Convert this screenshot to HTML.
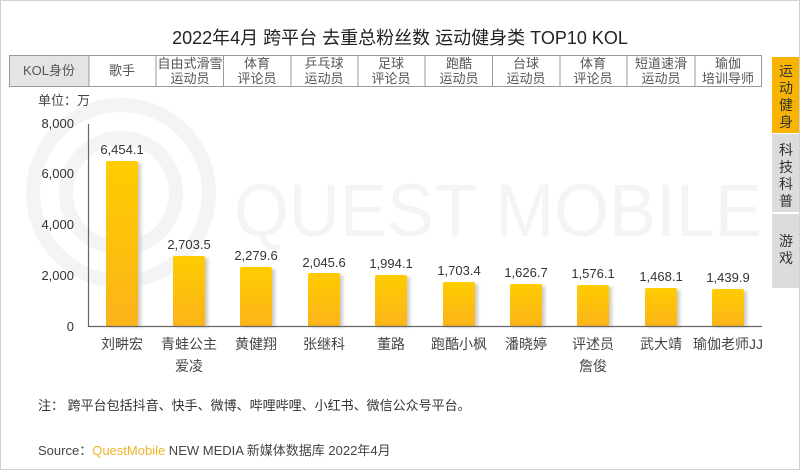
<!DOCTYPE html>
<html><head><meta charset="utf-8"><style>
html,body{margin:0;padding:0;background:#fff;}
svg{display:block;font-family:"Liberation Sans","Noto Sans CJK SC",sans-serif;}
</style></head><body>
<svg width="800" height="470" viewBox="0 0 800 470" xmlns="http://www.w3.org/2000/svg">
<defs>
<linearGradient id="g" x1="0" y1="0" x2="0" y2="1"><stop offset="0" stop-color="#ffcd00"/><stop offset="1" stop-color="#fbb31a"/></linearGradient>
<filter id="sh" x="-20%" y="-5%" width="150%" height="110%"><feGaussianBlur stdDeviation="1.5"/></filter>
</defs>
<rect x="0.5" y="0.5" width="799" height="469" fill="#fff" stroke="#d0d0d0"/>
<!-- watermark -->
<g fill="none" stroke="#f4f4f4" stroke-width="14">
<circle cx="121" cy="193" r="88"/>
<circle cx="121" cy="193" r="55"/>
</g>
<text x="234" y="236" font-size="74" fill="#f4f4f4" textLength="528" lengthAdjust="spacingAndGlyphs" font-family="Liberation Sans,sans-serif">QUEST MOBILE</text>
<!-- title -->
<text x="400" y="44" text-anchor="middle" font-size="18" fill="#222">2022年4月 跨平台 去重总粉丝数 运动健身类 TOP10 KOL</text>
<!-- table -->
<rect x="9" y="55" width="80" height="31" fill="#e4e4e4"/>
<rect x="9.5" y="55.5" width="752" height="31" fill="none" stroke="#999"/>
<g stroke="#999">
<line x1="89" y1="55" x2="89" y2="86"/><line x1="156" y1="55" x2="156" y2="86"/><line x1="223.5" y1="55" x2="223.5" y2="86"/><line x1="291" y1="55" x2="291" y2="86"/><line x1="358" y1="55" x2="358" y2="86"/><line x1="425" y1="55" x2="425" y2="86"/><line x1="492.5" y1="55" x2="492.5" y2="86"/><line x1="560" y1="55" x2="560" y2="86"/><line x1="627" y1="55" x2="627" y2="86"/><line x1="695" y1="55" x2="695" y2="86"/>
</g>
<g font-size="13" fill="#555" text-anchor="middle">
<text x="49" y="75">KOL身份</text>
<text x="122" y="75">歌手</text>
<text x="190" y="68">自由式滑雪</text><text x="190" y="83">运动员</text>
<text x="257" y="68">体育</text><text x="257" y="83">评论员</text>
<text x="324" y="68">乒乓球</text><text x="324" y="83">运动员</text>
<text x="391" y="68">足球</text><text x="391" y="83">评论员</text>
<text x="459" y="68">跑酷</text><text x="459" y="83">运动员</text>
<text x="526" y="68">台球</text><text x="526" y="83">运动员</text>
<text x="593" y="68">体育</text><text x="593" y="83">评论员</text>
<text x="661" y="68">短道速滑</text><text x="661" y="83">运动员</text>
<text x="728" y="68">瑜伽</text><text x="728" y="83">培训导师</text>
</g>
<!-- tabs -->
<rect x="772" y="57" width="27" height="76" fill="#f8b400"/>
<rect x="772" y="134" width="27" height="78" fill="#dcdcdc"/>
<rect x="772" y="214" width="27" height="74" fill="#dcdcdc"/>
<g font-size="14" fill="#333" text-anchor="middle">
<text x="786" y="76">运</text><text x="786" y="93">动</text><text x="786" y="110">健</text><text x="786" y="127">身</text>
<text x="786" y="155">科</text><text x="786" y="172">技</text><text x="786" y="189">科</text><text x="786" y="206">普</text>
<text x="786" y="246">游</text><text x="786" y="263">戏</text>
</g>
<!-- axis -->
<text x="38" y="105" font-size="13" fill="#444">单位：万</text>
<g font-size="13" fill="#333" text-anchor="end">
<text x="74" y="128">8,000</text><text x="74" y="178">6,000</text><text x="74" y="229">4,000</text><text x="74" y="280">2,000</text><text x="74" y="331">0</text>
</g>
<!-- bars -->
<g>
<rect x="109" y="163" width="32" height="164" fill="#ccc" filter="url(#sh)"/>
<rect x="176" y="258" width="32" height="69" fill="#ccc" filter="url(#sh)"/>
<rect x="243" y="269" width="32" height="58" fill="#ccc" filter="url(#sh)"/>
<rect x="311" y="275" width="32" height="52" fill="#ccc" filter="url(#sh)"/>
<rect x="378" y="277" width="32" height="50" fill="#ccc" filter="url(#sh)"/>
<rect x="446" y="284" width="32" height="43" fill="#ccc" filter="url(#sh)"/>
<rect x="513" y="286" width="32" height="41" fill="#ccc" filter="url(#sh)"/>
<rect x="580" y="287" width="32" height="40" fill="#ccc" filter="url(#sh)"/>
<rect x="648" y="290" width="32" height="37" fill="#ccc" filter="url(#sh)"/>
<rect x="715" y="291" width="32" height="36" fill="#ccc" filter="url(#sh)"/>
</g>
<g fill="url(#g)">
<rect x="106" y="161" width="32" height="166" rx="2"/>
<rect x="173" y="256" width="32" height="71" rx="2"/>
<rect x="240" y="267" width="32" height="60" rx="2"/>
<rect x="308" y="273" width="32" height="54" rx="2"/>
<rect x="375" y="275" width="32" height="52" rx="2"/>
<rect x="443" y="282" width="32" height="45" rx="2"/>
<rect x="510" y="284" width="32" height="43" rx="2"/>
<rect x="577" y="285" width="32" height="42" rx="2"/>
<rect x="645" y="288" width="32" height="39" rx="2"/>
<rect x="712" y="289" width="32" height="38" rx="2"/>
</g>
<path d="M88.5 124 V326.5 H762" fill="none" stroke="#666" stroke-width="1.2"/>
<g font-size="13" fill="#333" text-anchor="middle">
<text x="122" y="154">6,454.1</text>
<text x="189" y="249">2,703.5</text>
<text x="256" y="260">2,279.6</text>
<text x="324" y="267">2,045.6</text>
<text x="391" y="268">1,994.1</text>
<text x="459" y="275">1,703.4</text>
<text x="526" y="277">1,626.7</text>
<text x="593" y="278">1,576.1</text>
<text x="661" y="281">1,468.1</text>
<text x="728" y="282">1,439.9</text>
</g>
<g font-size="14" fill="#444" text-anchor="middle">
<text x="122" y="349">刘畊宏</text>
<text x="189" y="349">青蛙公主</text><text x="189" y="371">爱凌</text>
<text x="256" y="349">黄健翔</text>
<text x="324" y="349">张继科</text>
<text x="391" y="349">董路</text>
<text x="459" y="349">跑酷小枫</text>
<text x="526" y="349">潘晓婷</text>
<text x="593" y="349">评述员</text><text x="593" y="371">詹俊</text>
<text x="661" y="349">武大靖</text>
<text x="728" y="349">瑜伽老师JJ</text>
</g>
<text x="38" y="410" font-size="13" fill="#333">注：  跨平台包括抖音、快手、微博、哔哩哔哩、小红书、微信公众号平台。</text>
<text x="38" y="455" font-size="13" fill="#444">Source：<tspan fill="#f0b429">QuestMobile</tspan> NEW MEDIA 新媒体数据库 2022年4月</text>
</svg>
</body></html>
